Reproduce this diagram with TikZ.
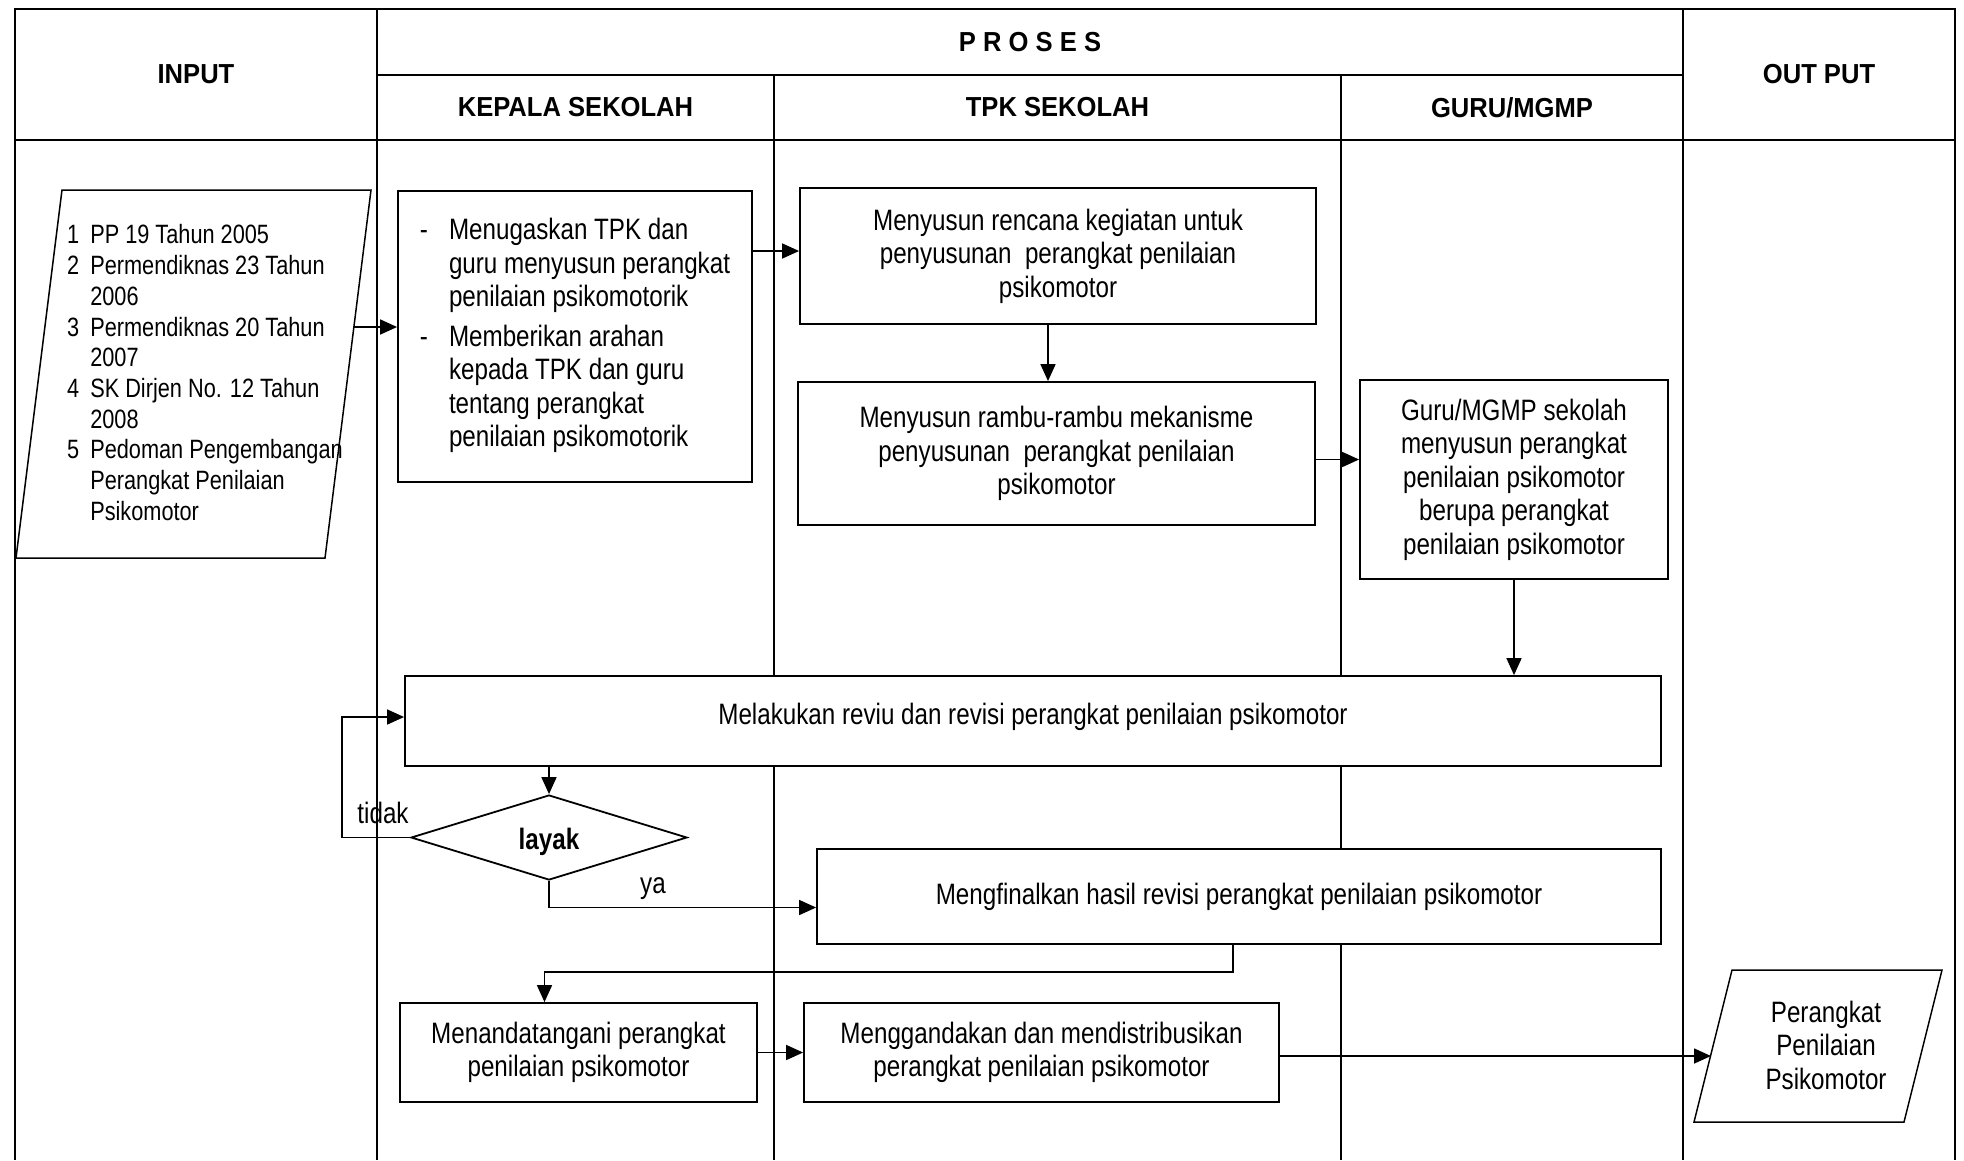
\documentclass[tikz,border=0pt]{standalone}
\usepackage{fontspec}
\setmainfont{Liberation Sans}[FakeStretch=0.82]
\newfontfamily\hdfont{Liberation Sans}[FakeStretch=0.93]
\usetikzlibrary{arrows.meta,shapes.geometric,calc}
\newcommand{\fsmain}{\fontsize{29.5}{33.5}\selectfont}
\newcommand{\fslist}{\fontsize{26.5}{30.7}\selectfont}
\newcommand{\fshead}{\hdfont\bfseries\fontsize{27.5}{32}\selectfont}
\tikzset{
  tbl/.style={line width=2pt},
  box/.style={draw, line width=1.8pt, fill=white, inner sep=0pt, align=center, font=\fsmain},
  arr/.style={line width=1.6pt, -{Triangle[length=17pt,width=15pt]}},
  lbl/.style={inner sep=0pt, font=\fsmain},
  head/.style={inner sep=0pt, font=\fshead},
  para/.style={draw, line width=1.5pt, fill=white},
}
\begin{document}
\begin{tikzpicture}[x=1pt,y=-1pt]
\useasboundingbox (0,0) rectangle (1964,1160);
% table
\draw[tbl] (15,1160) -- (15,9) -- (1955,9) -- (1955,1160);
\draw[tbl] (377,9) -- (377,1160);
\draw[tbl] (1683,9) -- (1683,1160);
\draw[tbl] (377,75) -- (1683,75);
\draw[tbl] (15,140) -- (1955,140);
\draw[tbl] (774,75) -- (774,1160);
\draw[tbl] (1341,75) -- (1341,1160);
% headers
\node[head] (hin) at (196,74.5) {INPUT};
\node[head] (hpr) at (1030,42) {P R O S E S};
\node[head] (hout) at (1819,74.5) {OUT PUT};
\node[head] (hkep) at (575.5,107.5) {KEPALA SEKOLAH};
\node[head] (htpk) at (1057.5,107.5) {TPK SEKOLAH};
\node[head] (hgur) at (1512,107.5) {GURU/MGMP};
% input parallelogram
\draw[para] (62,190) -- (371,190) -- (325,558) -- (16,558) -- cycle;
\node[inner sep=0pt, anchor=west, font=\fslist] (inlist) at (67,376) {%
\begin{tabular}{@{}l@{\hspace{11pt}}l@{}}
1 & PP 19 Tahun 2005\\
2 & Permendiknas 23 Tahun\\
 & 2006\\
3 & Permendiknas 20 Tahun\\
 & 2007\\
4 & SK Dirjen No. 12 Tahun\\
 & 2008\\
5 & Pedoman Pengembangan\\
 & Perangkat Penilaian\\
 & Psikomotor
\end{tabular}};
\coordinate (inR) at (354,327);
% output parallelogram
\draw[para] (1732,970) -- (1942,970) -- (1904,1122) -- (1694,1122) -- cycle;
\node[lbl, align=center] (outtxt) at (1826,1045) {Perangkat\\Penilaian\\Psikomotor};
\coordinate (outL) at (1711,1056);
% boxes
\node[box, minimum width=354, minimum height=291] (kep) at (575,336.5) {%
\begin{tabular}{@{}l@{\hspace{21pt}}l@{}}
- & Menugaskan TPK dan\\
  & guru menyusun perangkat\\
  & penilaian psikomotorik\\[6pt]
- & Memberikan arahan\\
  & kepada TPK dan guru\\
  & tentang perangkat\\
  & penilaian psikomotorik
\end{tabular}};
\node[box, minimum width=516, minimum height=136] (tpk1) at (1058,256)
  {Menyusun rencana kegiatan untuk\\penyusunan\ \ perangkat penilaian\\psikomotor};
\node[box, minimum width=517, minimum height=143] (tpk2) at (1056.5,453.5)
  {Menyusun rambu-rambu mekanisme\\penyusunan\ \ perangkat penilaian\\psikomotor};
\node[box, minimum width=308, minimum height=199] (guru) at (1514,479.5)
  {Guru/MGMP sekolah\\menyusun perangkat\\penilaian psikomotor\\berupa perangkat\\penilaian psikomotor};
\node[box, minimum width=1256, minimum height=90] (rev) at (1033,721)
  {\raisebox{4pt}[\height][\depth]{Melakukan reviu dan revisi perangkat penilaian psikomotor}};
\node[draw, line width=1.8pt, fill=white, shape=diamond, aspect=3, inner sep=0pt,
  minimum width=276, minimum height=85, font=\fsmain\bfseries] (dia) at (549,837.5)
  {\raisebox{-4pt}[\height][\depth]{layak}};
\node[box, minimum width=844, minimum height=95] (fin) at (1239,896.5)
  {Mengfinalkan hasil revisi perangkat penilaian psikomotor};
\node[box, minimum width=357, minimum height=99] (sign) at (578.5,1052.5)
  {Menandatangani perangkat\\penilaian psikomotor};
\node[box, minimum width=475, minimum height=99] (mgd) at (1041.5,1052.5)
  {Menggandakan dan mendistribusikan\\perangkat penilaian psikomotor};
% connectors
\draw[arr] (inR) -- (inR -| kep.west);
\draw[arr] ([yshift=5pt]kep.east |- tpk1.west) -- ([yshift=5pt]tpk1.west);
\draw[arr] ([xshift=-10pt]tpk1.south) -- ([xshift=-10pt]tpk1.south |- tpk2.north);
\draw[arr] ([yshift=-6pt]tpk2.east) -- ([yshift=-6pt]tpk2.east -| guru.west);
\draw[arr] (guru.south) -- (guru.south |- rev.north);
\draw[arr] (rev.south -| dia.north) -- (dia.north);
\draw[arr] (dia.west) -- ++(-68,0) |- ([yshift=4pt]rev.west);
\node[lbl] (tidak) at (383,813) {tidak};
\draw[arr] (dia.south) |- ([yshift=-11pt]fin.west);
\node[lbl] (ya) at (653,889) {ya};
\draw[arr] ([xshift=-6pt]fin.south) -- ++(0,27) -| ([xshift=-34pt]sign.north);
\draw[arr] (sign.east) -- (mgd.west);
\draw[arr] (mgd.east |- outL) -- (outL);
\end{tikzpicture}
\end{document}
